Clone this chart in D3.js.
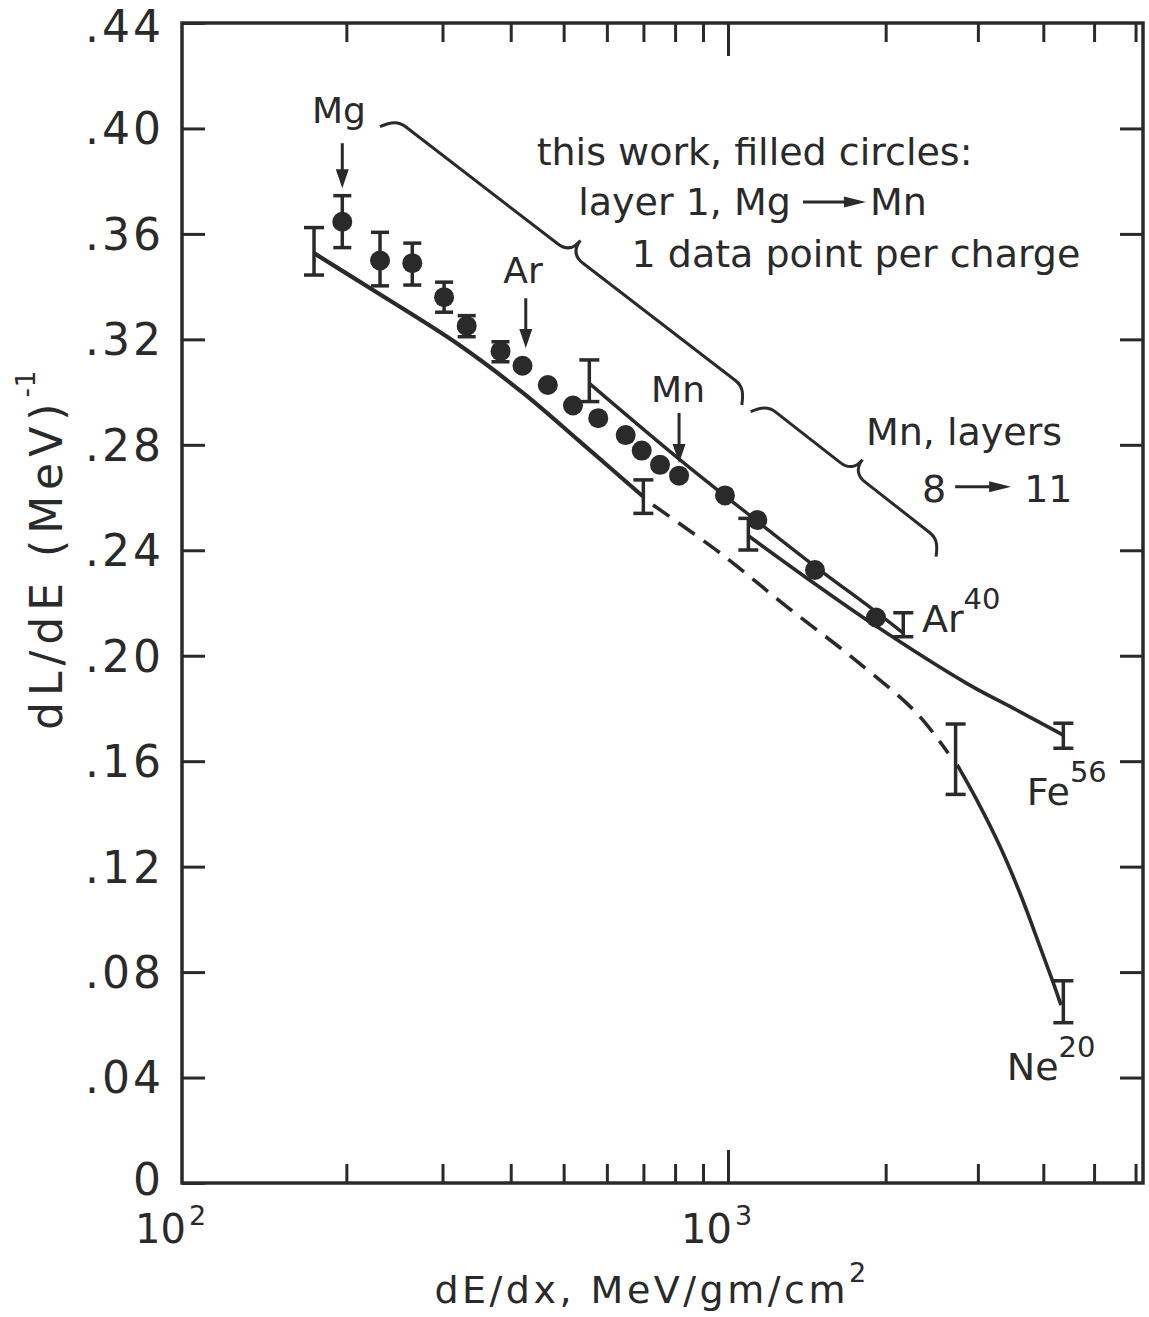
<!DOCTYPE html>
<html>
<head>
<meta charset="utf-8">
<script src="https://cdn.jsdelivr.net/npm/d3@7"></script>
<style>
  body { margin: 0; background: #fff; }
  svg text { font-family: "DejaVu Sans", sans-serif; fill: #2a2a2a; }
</style>
</head>
<body>
<div id="chart"></div>
<script>
const W = 1149, H = 1317;
const ink = "#2a2a2a";

// axes
const xTickValues = [200, 300, 400, 500, 600, 700, 800, 900, 1000, 2000, 3000, 4000, 5000, 6000];
const xDecades = [100, 1000];
const xDecadeExp = ["2", "3"];
const yTicks = [0, .04, .08, .12, .16, .20, .24, .28, .32, .36, .40, .44];

// this work, filled circles (layer 1, Mg -> Mn, 1 point per charge)
const thisWorkX = [196.6, 230.5, 264.1, 302, 332.2, 383.1, 420.4, 467.7, 520.1, 578.6, 649.6, 695, 750.7, 813.5, 987.4, 1137.6, 1466, 1917];
const thisWorkY = [.3646, .3499, .3489, .3360, .3251, .3155, .3100, .3027, .2949, .2901, .2837, .2778, .2724, .2683, .2608, .2515, .2325, .2145];
const thisWorkLo = [.3548, .3403, .3406, .3303, .3210, .3115];
const thisWorkHi = [.3745, .3606, .3565, .3417, .3290, .3191];

// calibration curves
const lowX = [174.5, 223.8, 318.6, 421.8, 535.6, 698];
const lowY = [.3527, .3387, .3185, .2996, .2812, .2605];
const dashX = [728.9, 966.7, 1294.7, 1735, 2293, 2634];
const dashY = [.2572, .2390, .2186, .1990, .1782, .1630];
const neX = [2740, 2985, 3307, 3610, 3943, 4181, 4324];
const neY = [.1586, .1453, .1276, .1099, .0896, .0758, .0675];
const mnX = [557.2, 816.9, 1151, 1498, 1895, 2161];
const mnY = [.3033, .2743, .2502, .2325, .2174, .2086];
const feX = [1093.5, 1413, 1892, 2856, 3558, 4368];
const feY = [.2455, .2295, .2120, .1895, .1794, .1699];

// error bars on the curves
const barX = [174.5, 699.8, 557.2, 1093.5, 2161, 2720, 4368, 4368];
const barLo = [.3444, .2540, .2964, .2401, .2072, .1474, .1649, .0608];
const barHi = [.3624, .2667, .3122, .2521, .2163, .1741, .1744, .0767];

// arrows Mg, Ar, Mn
const arrowX = [196.6, 426.2, 813.5];
const arrowTop = [.3944, .3356, .2921];
const arrowTip = [.3773, .3167, .2731];

// braces
const braceFrom = [[230.5, .4007], [1105, .2926]];
const braceTo = [[1062.6, .2951], [2496, .2376]];
const braceH = [15.5, 15];
const braceW = [32, 31];

// text labels
const noteText = ["Mg", "Ar", "Mn", "this work, filled circles:", "1 data point per charge", "Mn, layers"];
const noteX = [193.9, 421.2, 810, 446.2, 665.8, 1834];
const noteY = [.4019, .3414, .2964, .3862, .3476, .2799];
const noteAnchor = ["middle", "middle", "middle", "start", "start", "start"];
const noteSize = [36, 36, 36, 38, 38, 38];

const flowLeft = ["layer 1, Mg", "8"];
const flowRight = ["Mn", "11"];
const flowX = [531.8, 2346];
const flowY = [.3672, .2584];

const isoName = ["Ar", "Fe", "Ne"];
const isoMass = ["40", "56", "20"];
const isoX = [2346, 3719, 3406];
const isoY = [.2091, .1434, .0391];

const svg = d3.select("#chart").append("svg")
  .attr("width", W)
  .attr("height", H)
  .style("background", "#fff");

// log axis, piecewise to follow the printed decades
const x = d3.scaleLog().domain([100, 1000, 6200]).range([182, 728, 1143]);
const y = d3.scaleLinear().domain([0, .44]).range([1183, 23]);

function styleAxis(g) {
  g.attr("font-size", null).attr("font-family", null);
  g.select(".domain").remove();
  g.selectAll(".tick line").attr("stroke", ink).attr("stroke-width", 3);
}

// frame
svg.append("rect")
  .attr("x", x(100)).attr("y", y(.44))
  .attr("width", x(6200) - x(100))
  .attr("height", y(0) - y(.44))
  .attr("fill", "none").attr("stroke", ink).attr("stroke-width", 3.5);

const fmtY = d => d === 0 ? "0" : d3.format(".2f")(d).slice(1);

const gLeft = svg.append("g")
  .attr("transform", `translate(${x(100)},0)`)
  .call(d3.axisLeft(y).tickValues(yTicks).tickSize(-23).tickPadding(18).tickFormat(fmtY))
  .call(styleAxis);
gLeft.selectAll(".tick text")
  .attr("dy", d => d === .44 ? "0.42em" : d === 0 ? "0.26em" : "0.35em")
  .style("font-size", "44px")
  .style("letter-spacing", "3px");

svg.append("g")
  .attr("transform", `translate(${x(6200)},0)`)
  .call(d3.axisRight(y).tickValues(yTicks.slice(1, -1)).tickSize(-23).tickFormat(""))
  .call(styleAxis);

svg.append("g")
  .attr("transform", `translate(0,${y(0)})`)
  .call(d3.axisBottom(x).tickValues(xTickValues).tickSize(-19).tickFormat(""))
  .call(styleAxis)
  .selectAll(".tick line").filter(d => d === 1000).attr("y2", -33);

svg.append("g")
  .attr("transform", `translate(0,${y(.44)})`)
  .call(d3.axisTop(x).tickValues(xTickValues).tickSize(-19).tickFormat(""))
  .call(styleAxis)
  .selectAll(".tick line").filter(d => d === 1000).attr("y2", 33);

// decade labels 10^2, 10^3
xDecades.forEach((v, i) => {
  svg.append("text")
    .attr("x", x(v) + 4).attr("y", 1243)
    .attr("text-anchor", "end")
    .style("font-size", "40px")
    .text("10");
  svg.append("text")
    .attr("x", x(v) + 7).attr("y", 1225)
    .style("font-size", "27px")
    .text(xDecadeExp[i]);
});

// axis titles
const xt = svg.append("text")
  .attr("x", 652).attr("y", 1303)
  .attr("text-anchor", "middle")
  .style("font-size", "38px")
  .style("letter-spacing", "3.5px");
xt.append("tspan").text("dE/dx, MeV/gm/cm");
xt.append("tspan").attr("dy", -21).style("font-size", "27px").text("2");

const yt = svg.append("text")
  .attr("transform", "translate(62,730) rotate(-90)")
  .style("font-size", "44px")
  .style("letter-spacing", "6px");
yt.append("tspan").text("dL/dE (MeV)");
yt.append("tspan").attr("dy", -27).style("font-size", "26px").style("letter-spacing", "1px").text("-1");

// curves
const line = d3.line().x(d => x(d[0])).y(d => y(d[1])).curve(d3.curveCatmullRom.alpha(0.5));
const zip = (xs, ys) => xs.map((v, i) => [v, ys[i]]);

svg.append("path").datum(zip(lowX, lowY))
  .attr("d", line).attr("fill", "none").attr("stroke", ink).attr("stroke-width", 4.2);
svg.append("path").datum(zip(dashX, dashY))
  .attr("d", line).attr("fill", "none").attr("stroke", ink).attr("stroke-width", 3.6)
  .attr("stroke-dasharray", "20,11");
svg.append("path").datum(zip(neX, neY))
  .attr("d", line).attr("fill", "none").attr("stroke", ink).attr("stroke-width", 3.6);
svg.append("path").datum(zip(mnX, mnY))
  .attr("d", line).attr("fill", "none").attr("stroke", ink).attr("stroke-width", 3.4);
svg.append("path").datum(zip(feX, feY))
  .attr("d", line).attr("fill", "none").attr("stroke", ink).attr("stroke-width", 3.6);

// I-shaped error bars
function errBar(g, cx, lo, hi, cap) {
  const px = x(cx);
  g.append("line").attr("x1", px).attr("x2", px).attr("y1", y(lo)).attr("y2", y(hi));
  g.append("line").attr("x1", px - cap / 2).attr("x2", px + cap / 2).attr("y1", y(lo)).attr("y2", y(lo));
  g.append("line").attr("x1", px - cap / 2).attr("x2", px + cap / 2).attr("y1", y(hi)).attr("y2", y(hi));
}
const gBars = svg.append("g").attr("stroke", ink).attr("stroke-width", 3.5);
barX.forEach((v, i) => errBar(gBars, v, barLo[i], barHi[i], 20));
thisWorkLo.forEach((lo, i) => errBar(gBars, thisWorkX[i], lo, thisWorkHi[i], 18));

// filled circles
svg.append("g").selectAll("circle")
  .data(zip(thisWorkX, thisWorkY))
  .join("circle")
  .attr("cx", d => x(d[0])).attr("cy", d => y(d[1]))
  .attr("r", 10).attr("fill", ink);

// down arrows
arrowX.forEach((v, i) => {
  const px = x(v), top = y(arrowTop[i]), tip = y(arrowTip[i]);
  svg.append("line").attr("x1", px).attr("x2", px).attr("y1", top).attr("y2", tip - 15)
    .attr("stroke", ink).attr("stroke-width", 3);
  svg.append("path")
    .attr("d", `M${px},${tip}L${px - 6.5},${tip - 19}L${px + 6.5},${tip - 19}Z`)
    .attr("fill", ink);
});

// curly braces
function bracePath(p0, p1, h, w, r) {
  const dx = p1[0] - p0[0], dy = p1[1] - p0[1], L = Math.hypot(dx, dy);
  const d = [dx / L, dy / L], n = [d[1], -d[0]];
  const P = (u, v) => [p0[0] + u * d[0] + v * n[0], p0[1] + u * d[1] + v * n[1]].join(",");
  const m = L / 2, c = 0.8 * r;
  return `M${P(0, 0)}C${P(r * 0.3, h * 0.7)} ${P(r * 0.55, h)} ${P(r, h)}` +
    `L${P(m - c, h)}C${P(m - c * 0.35, h)} ${P(m, h + (w - h) * 0.35)} ${P(m, w)}` +
    `C${P(m, h + (w - h) * 0.35)} ${P(m + c * 0.35, h)} ${P(m + c, h)}` +
    `L${P(L - r, h)}C${P(L - r * 0.55, h)} ${P(L - r * 0.3, h * 0.7)} ${P(L, 0)}`;
}
braceFrom.forEach((f, i) => {
  const p0 = [x(f[0]), y(f[1])], p1 = [x(braceTo[i][0]), y(braceTo[i][1])];
  svg.append("path")
    .attr("d", bracePath(p0, p1, braceH[i], braceW[i], 20))
    .attr("fill", "none").attr("stroke", ink).attr("stroke-width", 3);
});

// text notes
noteText.forEach((t, i) => {
  svg.append("text")
    .attr("x", x(noteX[i])).attr("y", y(noteY[i]))
    .attr("text-anchor", noteAnchor[i])
    .style("font-size", noteSize[i] + "px")
    .text(t);
});

// "A -> B" notes with drawn arrows
const flowGap = [[12, 63, 4, 13], [9, 56, 13, 15]];
flowLeft.forEach((t, i) => {
  const px = x(flowX[i]), py = y(flowY[i]);
  const left = svg.append("text").attr("x", px).attr("y", py).style("font-size", "38px").text(t);
  const end = px + left.node().getComputedTextLength();
  const [g0, len, g1, lift] = flowGap[i];
  const a0 = end + g0, a1 = a0 + len, ay = py - lift;
  svg.append("line").attr("x1", a0).attr("x2", a1 - 18).attr("y1", ay).attr("y2", ay)
    .attr("stroke", ink).attr("stroke-width", 3);
  svg.append("path")
    .attr("d", `M${a1},${ay}L${a1 - 22},${ay - 5.5}L${a1 - 22},${ay + 5.5}Z`)
    .attr("fill", ink);
  svg.append("text").attr("x", a1 + g1).attr("y", py).style("font-size", "38px").text(flowRight[i]);
});

// isotope labels
isoName.forEach((t, i) => {
  const tx = svg.append("text")
    .attr("x", x(isoX[i])).attr("y", y(isoY[i]))
    .style("font-size", "38px");
  tx.append("tspan").text(t);
  tx.append("tspan").attr("dy", -23).style("font-size", "29px").text(isoMass[i]);
});
</script>
</body>
</html>
